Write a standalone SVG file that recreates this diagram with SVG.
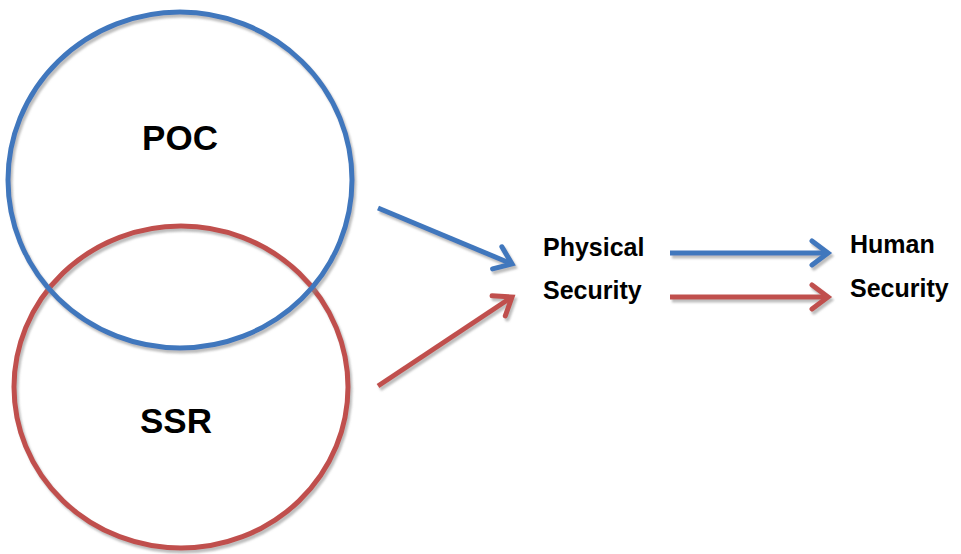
<svg xmlns="http://www.w3.org/2000/svg" width="961" height="554" viewBox="0 0 961 554">
<defs>
<filter id="sh" x="-10%" y="-10%" width="120%" height="120%">
<feGaussianBlur in="SourceAlpha" stdDeviation="1.2" result="b"/>
<feOffset dx="1.5" dy="3" result="o"/>
<feFlood flood-color="#888" flood-opacity="0.55"/>
<feComposite in2="o" operator="in" result="s"/>
<feMerge><feMergeNode in="s"/><feMergeNode in="SourceGraphic"/></feMerge>
</filter>
<marker id="hb" markerUnits="userSpaceOnUse" markerWidth="30" markerHeight="30" viewBox="-20 -15 25 30" refX="0" refY="0" orient="auto">
<path d="M-16,-12 L0,0 L-16,12" fill="none" stroke="#4077bd" stroke-width="5" stroke-linecap="round" stroke-linejoin="miter"/>
</marker>
<marker id="hr" markerUnits="userSpaceOnUse" markerWidth="30" markerHeight="30" viewBox="-20 -15 25 30" refX="0" refY="0" orient="auto">
<path d="M-16,-12 L0,0 L-16,12" fill="none" stroke="#c0504d" stroke-width="5" stroke-linecap="round" stroke-linejoin="miter"/>
</marker>
</defs>
<style>
.t{font-family:"Liberation Sans",Arial,sans-serif;font-weight:bold;fill:#000}
.big{font-size:35px}
.sm{font-size:25px}
.b{stroke:#4077bd}
.r{stroke:#c0504d}
.c{fill:none;stroke-width:5}
.a{fill:none;stroke-width:5}
</style>
<g id="ssr" filter="url(#sh)">
<ellipse class="c r" cx="181" cy="387" rx="167" ry="161"/>
</g>
<g id="poc" filter="url(#sh)">
<ellipse class="c b" cx="180" cy="180" rx="172" ry="168"/>
</g>
<g id="labels">
<text class="t big" x="180" y="150" text-anchor="middle">POC</text>
<text class="t big" x="176" y="433" text-anchor="middle">SSR</text>
</g>
<g id="physical">
<text class="t sm" x="543" y="256">Physical</text>
<text class="t sm" x="543" y="299">Security</text>
</g>
<g id="human">
<text class="t sm" x="850" y="253">Human</text>
<text class="t sm" x="850" y="297">Security</text>
</g>
<g id="connectors" filter="url(#sh)">
<line class="a b" x1="378" y1="208" x2="512" y2="264" marker-end="url(#hb)"/>
<line class="a r" x1="378" y1="386" x2="512" y2="297" marker-end="url(#hr)"/>
<line class="a b" x1="670" y1="253" x2="828" y2="253" marker-end="url(#hb)"/>
<line class="a r" x1="670" y1="297" x2="828" y2="297" marker-end="url(#hr)"/>
</g>
</svg>
